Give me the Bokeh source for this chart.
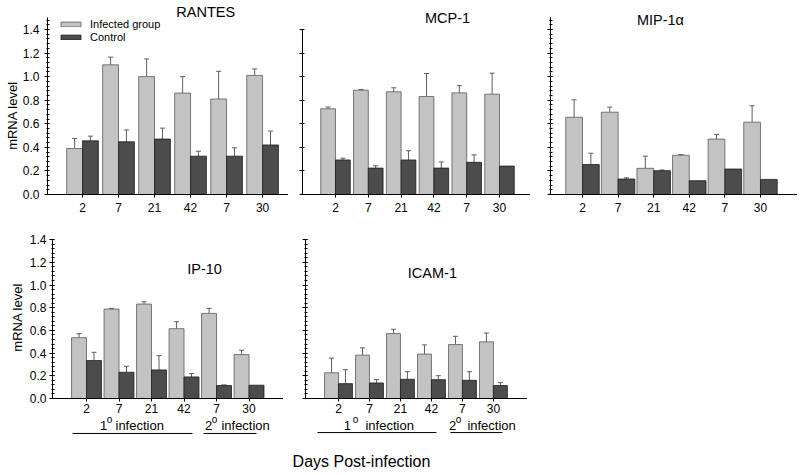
from bokeh.plotting import figure
from bokeh.layouts import column, row
from bokeh.models import (FixedTicker, PrintfTickFormatter, Whisker, TeeHead,
                          ColumnDataSource, Legend, LegendItem, Range1d)
from bokeh.core.properties import value
from bokeh.embed import file_html
from bokeh.resources import INLINE

FONT = "Liberation Sans"

# ---------------- data ----------------
days = ["2", "7", "21", "42", "7", "30"]
groups = [0, 1, 2, 3, 4, 5]

rantes_inf = [0.39, 1.10, 1.00, 0.86, 0.81, 1.01]
rantes_inf_err = [0.085, 0.065, 0.15, 0.14, 0.235, 0.055]
rantes_ctl = [0.455, 0.447, 0.47, 0.325, 0.325, 0.42]
rantes_ctl_err = [0.04, 0.10, 0.093, 0.042, 0.071, 0.118]

mcp_inf = [0.727, 0.885, 0.871, 0.831, 0.862, 0.851]
mcp_inf_err = [0.015, 0.006, 0.034, 0.195, 0.061, 0.178]
mcp_ctl = [0.293, 0.224, 0.293, 0.224, 0.273, 0.241]
mcp_ctl_err = [0.015, 0.02, 0.078, 0.052, 0.063, 0.003]

mip_inf = [0.655, 0.698, 0.222, 0.333, 0.47, 0.613]
mip_inf_err = [0.148, 0.043, 0.103, 0.006, 0.04, 0.139]
mip_ctl = [0.254, 0.131, 0.202, 0.117, 0.216, 0.128]
mip_ctl_err = [0.096, 0.011, 0.006, 0.0, 0.0, 0.0]

ip10_inf = [0.536, 0.788, 0.832, 0.615, 0.75, 0.387]
ip10_inf_err = [0.035, 0.006, 0.02, 0.062, 0.044, 0.038]
ip10_ctl = [0.334, 0.231, 0.252, 0.19, 0.114, 0.117]
ip10_ctl_err = [0.073, 0.053, 0.126, 0.03, 0.006, 0.0]

icam_inf = [0.227, 0.382, 0.572, 0.391, 0.475, 0.499]
icam_inf_err = [0.129, 0.064, 0.038, 0.081, 0.073, 0.078]
icam_ctl = [0.131, 0.137, 0.169, 0.166, 0.16, 0.114]
icam_ctl_err = [0.123, 0.029, 0.067, 0.035, 0.076, 0.026]

y_major = [0.0, 0.2, 0.4, 0.6, 0.8, 1.0, 1.2, 1.4]
legend_labels = ["Infected group", "Control"]
phase_labels = ["1", "2"]
phase_word = "infection"
x_title = "Days Post-infection"
y_title = "mRNA level"

INF_FILL, INF_LINE = "#c3c3c3", "#5a5a5a"
CTL_FILL, CTL_LINE = "#4c4c4c", "#1c1c1c"
ERR_COLOR = "#5e5e5e"
NBSP = "\u00a0"


def panel(title, inf, inf_err, ctl, ctl_err, frame_w, frame_h, xr, yr, bw,
          left, top, bottom, labels, minor, axis_top, title_xy,
          fixed=False, ylabel=None, ystandoff=3, lstandoff=2):
    p = figure(frame_width=frame_w, frame_height=frame_h,
               x_range=Range1d(*xr), y_range=Range1d(*yr),
               output_backend="svg", toolbar_location=None,
               min_border_left=left, min_border_right=0,
               min_border_top=top, min_border_bottom=bottom)
    p.grid.visible = False
    p.outline_line_color = None
    p.background_fill_color = "white"
    p.border_fill_color = "white"

    xi = [g - bw / 2 for g in groups]
    xc = [g + bw / 2 for g in groups]
    r_inf = p.vbar(x=xi, top=inf, width=bw, bottom=0, fill_color=INF_FILL,
                   line_color=INF_LINE, line_width=0.8)
    r_ctl = p.vbar(x=xc, top=ctl, width=bw, bottom=0, fill_color=CTL_FILL,
                   line_color=CTL_LINE, line_width=0.8)

    for xs, vals, errs in ((xi, inf, inf_err), (xc, ctl, ctl_err)):
        keep = [i for i in range(len(vals)) if errs[i] > 0.004]
        src = ColumnDataSource(dict(
            base=[xs[i] for i in keep],
            lo=[vals[i] for i in keep],
            hi=[vals[i] + errs[i] for i in keep]))
        w = Whisker(base="base", lower="lo", upper="hi", source=src,
                    line_color=ERR_COLOR, line_width=1,
                    upper_head=TeeHead(size=5, line_color=ERR_COLOR, line_width=1),
                    lower_head=None)
        p.add_layout(w)

    p.text(x=[title_xy[0]], y=[title_xy[1]], text=[title],
           text_font=value(FONT), text_font_size="14.5px",
           text_align="center", text_baseline="middle", text_color="black")

    # y axis
    ya = p.yaxis[0]
    minor_ticks = [round(0.04 * i, 2) for i in range(int(axis_top / 0.04 + 1e-6) + 1)] if minor else []
    ya.ticker = FixedTicker(ticks=y_major, minor_ticks=minor_ticks)
    ya.formatter = PrintfTickFormatter(format="%.1f")
    ya.bounds = (0, axis_top)
    ya.axis_line_color = "black"
    ya.major_tick_line_color = "black"
    ya.minor_tick_line_color = "black"
    ya.major_tick_in = 2
    ya.major_tick_out = 3
    ya.minor_tick_in = 2
    ya.minor_tick_out = 1
    ya.major_label_text_font = FONT
    ya.major_label_text_font_size = "12px"
    if labels:
        ya.major_label_text_color = "black"
        ya.major_label_standoff = ystandoff
    else:
        ya.major_label_text_color = None
        ya.major_label_standoff = 0
    if ylabel:
        ya.axis_label = ylabel
        ya.axis_label_text_font = FONT
        ya.axis_label_text_font_size = "13px"
        ya.axis_label_text_font_style = "normal"
        ya.axis_label_standoff = lstandoff
        ya.axis_label_text_color = "black"

    # x axis
    xa = p.xaxis[0]
    xa.ticker = FixedTicker(ticks=groups, minor_ticks=[])
    xa.major_label_overrides = {g: d for g, d in zip(groups, days)}
    xa.axis_line_color = "black"
    xa.major_tick_line_color = "black"
    xa.major_tick_in = 0
    xa.major_tick_out = 3
    xa.minor_tick_line_color = None
    xa.major_label_text_font = FONT
    xa.major_label_text_font_size = "12px"
    xa.major_label_text_color = "black"
    xa.major_label_standoff = 5
    if fixed:
        xa.fixed_location = 0
        xa.major_label_standoff = 2
    return p, r_inf, r_ctl


def phase_marks(p, one_x, one_o, one_w, two_x, two_o, two_w, lines, y_txt, y_o, y_line):
    p.text(x=[one_x, two_x], y=[y_txt, y_txt], text=phase_labels,
           text_font=value(FONT), text_font_size="13px",
           text_align="center", text_baseline="middle", text_color="black")
    p.text(x=[one_o, two_o], y=[y_o, y_o], text=["o", "o"],
           text_font=value(FONT), text_font_size="10px",
           text_align="center", text_baseline="middle", text_color="black")
    p.text(x=[one_w, two_w], y=[y_txt, y_txt], text=[phase_word, phase_word],
           text_font=value(FONT), text_font_size="13px",
           text_align="left", text_baseline="middle", text_color="black")
    p.segment(x0=[lines[0][0], lines[1][0]], y0=[y_line, y_line],
              x1=[lines[0][1], lines[1][1]], y1=[y_line, y_line],
              line_color="black", line_width=1)


TOP_Y = (0, 1.6455)
BOT_Y = (-0.37, 1.4185)

# axis titles padded with no-break spaces so that they sit where the reference has them
top_ylabel = y_title + NBSP * 10
bot_ylabel = NBSP * 12 + y_title

p1, ri, rc = panel("RANTES", rantes_inf, rantes_inf_err, rantes_ctl, rantes_ctl_err,
                   241, 194, (-0.972, 5.72), TOP_Y, 0.44, 47, 0, 24,
                   True, True, 1.5, (3.42, 1.544), ylabel=top_ylabel,
                   ystandoff=5, lstandoff=0)
legend = Legend(items=[LegendItem(label=legend_labels[0], renderers=[ri]),
                       LegendItem(label=legend_labels[1], renderers=[rc])],
                location=(11, 151), glyph_width=25, glyph_height=6,
                label_height=13, label_standoff=7, spacing=0, padding=0,
                margin=0, border_line_color=None, background_fill_alpha=0,
                label_text_font=FONT, label_text_font_size="11px",
                label_text_color="black")
p1.add_layout(legend)

p2, _, _ = panel("MCP-1", mcp_inf, mcp_inf_err, mcp_ctl, mcp_ctl_err,
                 228, 194, (-1.006, 5.945), TOP_Y, 0.45, 14, 0, 24,
                 False, False, 1.4, (3.415, 1.501))
p3, _, _ = panel("MIP-1α", mip_inf, mip_inf_err, mip_ctl, mip_ctl_err,
                 247, 194, (-0.899, 6.04), TOP_Y, 0.47, 20, 0, 24,
                 False, True, 1.5, (2.19, 1.476))

p4, _, _ = panel("IP-10", ip10_inf, ip10_inf_err, ip10_ctl, ip10_ctl_err,
                 231, 203, (-1.046, 6.06), BOT_Y, 0.46, 52, 19, 0,
                 True, True, 1.4, (3.63, 1.145), fixed=True, ylabel=bot_ylabel)
phase_marks(p4, 0.523, 0.708, 0.892, 3.754, 3.938, 4.15,
            [(-0.431, 3.262), (3.60, 5.23)], -0.238, -0.185, -0.308)

p5, _, _ = panel("ICAM-1", icam_inf, icam_inf_err, icam_ctl, icam_ctl_err,
                 222, 203, (-1.065, 6.1), BOT_Y, 0.45, 22, 19, 0,
                 False, True, 1.4, (3.03, 1.11), fixed=True)
phase_marks(p5, 0.29, 0.548, 0.87, 3.68, 3.87, 4.16,
            [(-0.678, 3.16), (3.61, 5.29)], -0.238, -0.185, -0.30)

# caption strip
p6 = figure(frame_width=796, frame_height=35, x_range=Range1d(0, 796),
            y_range=Range1d(0, 35), output_backend="svg", toolbar_location=None,
            min_border=0)
p6.axis.visible = False
p6.grid.visible = False
p6.outline_line_color = None
p6.text(x=[361], y=[14], text=[x_title], text_font=value(FONT),
        text_font_size="16px", text_align="center", text_baseline="middle",
        text_color="black")

layout = column(row(p1, p2, p3), row(p4, p5), p6)
open("out.html", "w").write(file_html(layout, INLINE))
